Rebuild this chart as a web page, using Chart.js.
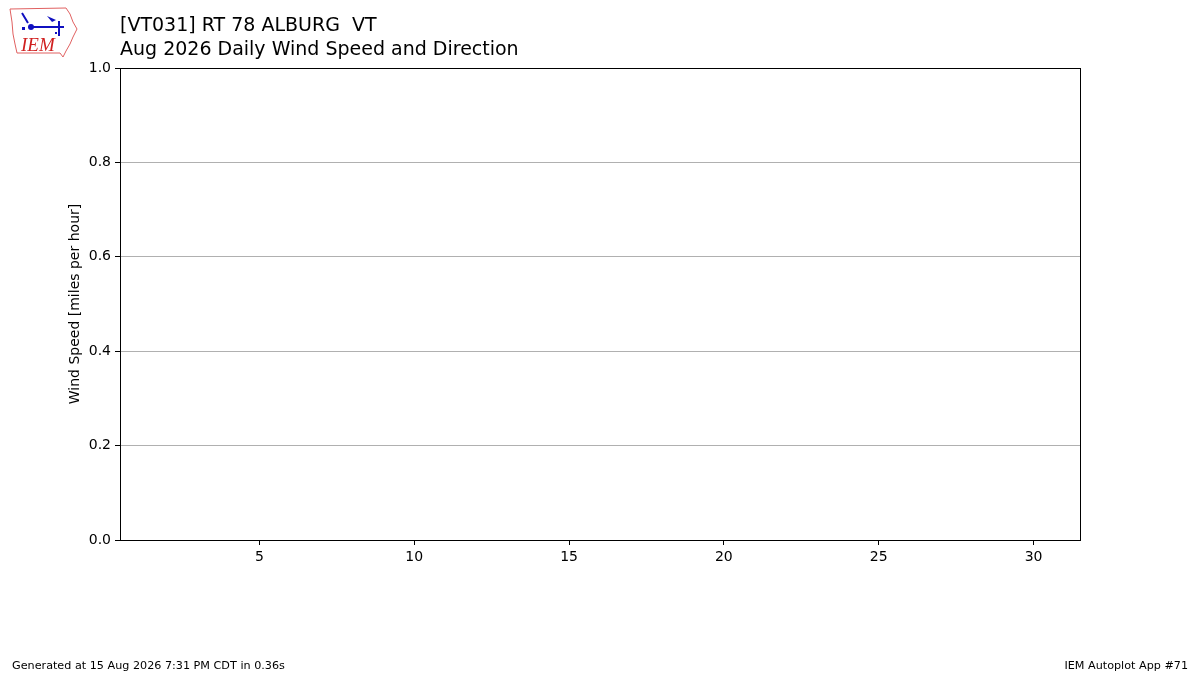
<!DOCTYPE html>
<html>
<head>
<meta charset="utf-8">
<script src="https://cdn.jsdelivr.net/npm/chart.js@4/dist/chart.umd.min.js"></script>
<style>
  html, body { margin: 0; padding: 0; background: #fff; }
  #wrap { width: 1200px; height: 675px; }
</style>
</head>
<body>
<div id="wrap"><canvas id="chart" width="1200" height="675"></canvas></div>
<script>
// the month has no observations, so the speed series is empty
const days = [1, 2, 3, 4, 5, 6, 7, 8, 9, 10, 11, 12, 13, 14, 15, 16, 17, 18, 19, 20, 21, 22, 23, 24, 25, 26, 27, 28, 29, 30, 31];
const avgSpeed = [];
const xTicks = [5, 10, 15, 20, 25, 30];
const yTicks = [0.0, 0.2, 0.4, 0.6, 0.8, 1.0];

const FONT = 'DejaVu Sans';

// titles, axis label, footer and the little IEM logo
const decorations = {
  id: 'decorations',
  afterDraw(chart) {
    const c = chart.ctx;
    const a = chart.chartArea;
    c.save();

    // frame around plot
    c.strokeStyle = '#000';
    c.lineWidth = 1;
    c.strokeRect(a.left + 0.5, a.top + 0.5, a.right - a.left, a.bottom - a.top);

    c.fillStyle = '#000';
    c.textBaseline = 'alphabetic';
    c.textAlign = 'left';
    c.font = '19px ' + FONT;
    c.fillText('[VT031] RT 78 ALBURG  VT', 120, 31);
    c.fillText('Aug 2026 Daily Wind Speed and Direction', 120, 55);

    c.font = '11.2px ' + FONT;
    c.fillText('Generated at 15 Aug 2026 7:31 PM CDT in 0.36s', 12, 669);
    c.textAlign = 'right';
    c.fillText('IEM Autoplot App #71', 1188, 669);

    c.save();
    c.translate(79, (a.top + a.bottom) / 2);
    c.rotate(-Math.PI / 2);
    c.textAlign = 'center';
    c.font = '14px ' + FONT;
    c.fillText('Wind Speed [miles per hour]', 0, 0);
    c.restore();

    // logo: state outline
    c.strokeStyle = '#e06060';
    c.lineWidth = 1;
    c.beginPath();
    c.moveTo(10, 9);
    c.lineTo(66, 8);
    c.lineTo(70, 14);
    c.lineTo(73, 22);
    c.lineTo(77, 29);
    c.lineTo(73, 37);
    c.lineTo(70, 44);
    c.lineTo(66, 51);
    c.lineTo(63, 57);
    c.lineTo(60, 53);
    c.lineTo(17, 53);
    c.lineTo(15, 44);
    c.lineTo(13, 34);
    c.lineTo(12, 22);
    c.closePath();
    c.stroke();

    // logo: wind gauge
    c.strokeStyle = '#1010c0';
    c.fillStyle = '#1010c0';
    c.lineWidth = 2;
    c.beginPath();
    c.moveTo(31, 27);
    c.lineTo(64, 27);
    c.moveTo(59, 21);
    c.lineTo(59, 36);
    c.moveTo(22, 13);
    c.lineTo(28, 23);
    c.stroke();
    c.beginPath();
    c.arc(31, 27, 3, 0, Math.PI * 2);
    c.fill();
    c.beginPath();
    c.moveTo(47, 16);
    c.lineTo(56, 20);
    c.lineTo(52, 22);
    c.closePath();
    c.fill();
    c.fillRect(22, 27, 3, 3);
    c.fillRect(55, 32, 2, 2);

    c.fillStyle = '#d02020';
    c.font = 'italic 19px "Liberation Serif"';
    c.textAlign = 'left';
    c.fillText('IEM', 21, 51);

    c.restore();
  }
};

new Chart(document.getElementById('chart'), {
  type: 'line',
  data: {
    datasets: [{
      label: 'Wind Speed',
      data: avgSpeed.map((v, i) => ({ x: days[i], y: v })),
      borderColor: '#1f77b4',
      backgroundColor: '#1f77b4'
    }]
  },
  options: {
    responsive: false,
    animation: false,
    devicePixelRatio: 1,
    layout: { padding: { top: 68, right: 120, left: 0, bottom: 0 } },
    plugins: {
      legend: { display: false },
      tooltip: { enabled: false }
    },
    scales: {
      x: {
        type: 'linear',
        min: 0.5,
        max: 31.5,
        afterFit(s) { s.height = 135; },
        afterBuildTicks(s) { s.ticks = xTicks.map(v => ({ value: v })); },
        grid: { drawOnChartArea: false, tickLength: 5, tickColor: '#000' },
        border: { display: false },
        ticks: { color: '#000', padding: 4, font: { family: FONT, size: 14 }, maxRotation: 0 }
      },
      y: {
        min: 0,
        max: 1,
        afterFit(s) { s.width = 120; },
        afterBuildTicks(s) { s.ticks = yTicks.map(v => ({ value: v })); },
        grid: {
          color: ctx => (ctx.tick && (ctx.tick.value === 0 || ctx.tick.value === 1)) ? 'rgba(0,0,0,0)' : '#b0b0b0',
          tickColor: '#000',
          tickLength: 5
        },
        border: { display: false },
        ticks: {
          color: '#000',
          padding: 4,
          font: { family: FONT, size: 14 },
          callback: v => v.toFixed(1)
        }
      }
    }
  },
  plugins: [decorations]
});
</script>
</body>
</html>
